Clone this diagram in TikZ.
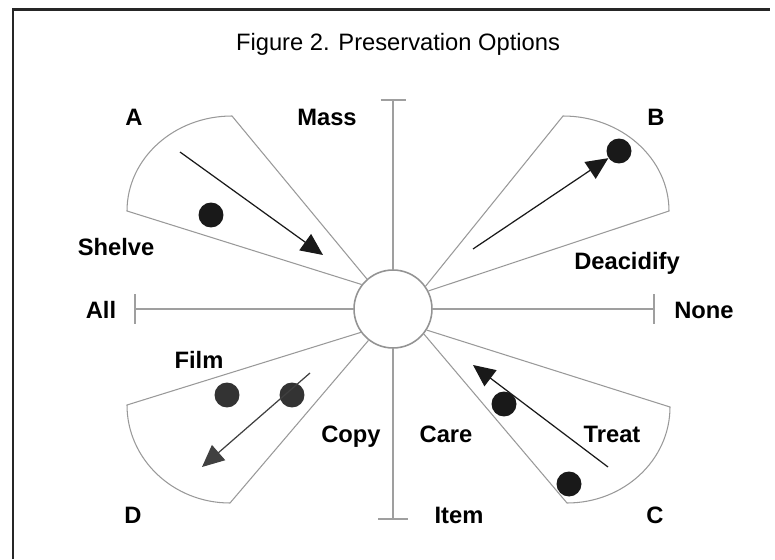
\documentclass[tikz,border=0pt]{standalone}
\usepackage{fontspec}
\setmainfont{Liberation Sans}
\usetikzlibrary{arrows.meta}

\begin{document}
\begin{tikzpicture}[x=0.02cm,y=0.02cm,
  lbl/.style={font=\fontsize{13.5}{16}\selectfont\bfseries,anchor=base},
  axis/.style={color=gray!75,line width=0.9pt},
  fan/.style={color=gray!80,line width=0.6pt},
  dot/.style={circle,fill=black!90,inner sep=0pt,minimum size=0.5cm},
  move/.style={black!90,line width=0.7pt,-{Triangle[length=0.44cm,width=0.4cm]}}]

\useasboundingbox (0,0) rectangle (775,559);

% frame
\draw [black!85, line width=1.2pt] (13,0) -- (13,549.5) -- (770,549.5);

\node [font=\fontsize{13.5}{16}\selectfont, anchor=base] (title) at (398,508) {Figure 2. Preservation Options};

\node [circle, draw=gray!85, line width=0.9pt, minimum size=1.56cm, inner sep=0pt] (hub) at (393,250) {};

% axes
\coordinate (mass) at (393,460);
\coordinate (item) at (393,39);
\coordinate (all) at (134,250);
\coordinate (none) at (655,250);
\draw [axis,-{Bar[width=0.5cm]}] (hub.north) -- (mass);
\draw [axis,-{Bar[width=0.6cm]}] (hub.south) -- (item);
\draw [axis,-{Bar[width=0.6cm]}] (hub.west) -- (all);
\draw [axis,-{Bar[width=0.6cm]}] (hub.east) -- (none);

% fans
\draw [fan] (hub.142) -- (127,348) arc [start angle=180, end angle=90, x radius=105, y radius=95] -- (hub.131);
\draw [fan] (hub.35) -- (563,443) arc [start angle=90, end angle=0, x radius=106, y radius=95] -- (hub.27);
\draw [fan] (hub.-32) -- (670,152) arc [start angle=0, end angle=-90, x radius=103, y radius=96] -- (hub.-39);
\draw [fan] (hub.216) -- (127,154) arc [start angle=180, end angle=270, x radius=103, y radius=98] -- (hub.232);

% dots
\node [dot] (dotA) at (211,344) {};
\node [dot] (dotB) at (619,408) {};
\node [dot] (dotC1) at (504,155) {};
\node [dot] (dotC2) at (569,75) {};
\node [dot,fill=black!80] (dotD1) at (227,164) {};
\node [dot,fill=black!80] (dotD2) at (292,164) {};

% moves
\coordinate (startA) at (180,407);
\coordinate (endA) at (323,304);
\coordinate (startB) at (473,310);
\coordinate (startC) at (608,92);
\coordinate (endC) at (473,194);
\coordinate (startD) at (310,186);
\coordinate (endD) at (202,92);
\draw [move] (startA) -- (endA);
\draw [move] (startB) -- (dotB);
\draw [move] (startC) -- (endC);
\draw [move,black!75] (startD) -- (endD);

% labels
\node [lbl] (labA) at (134,434) {A};
\node [lbl] (labMass) at (327,434) {Mass};
\node [lbl] (labB) at (656,434) {B};
\node [lbl] (labShelve) at (116,304) {Shelve};
\node [lbl] (labDeacidify) at (627,290) {Deacidify};
\node [lbl] (labAll) at (101,241) {All};
\node [lbl] (labNone) at (704,241) {None};
\node [lbl] (labFilm) at (199,191) {Film};
\node [lbl] (labCopy) at (351,117) {Copy};
\node [lbl] (labCare) at (446,117) {Care};
\node [lbl] (labTreat) at (612,117) {Treat};
\node [lbl] (labD) at (133,36) {D};
\node [lbl] (labItem) at (459,36) {Item};
\node [lbl] (labC) at (655,36) {C};

\end{tikzpicture}
\end{document}
